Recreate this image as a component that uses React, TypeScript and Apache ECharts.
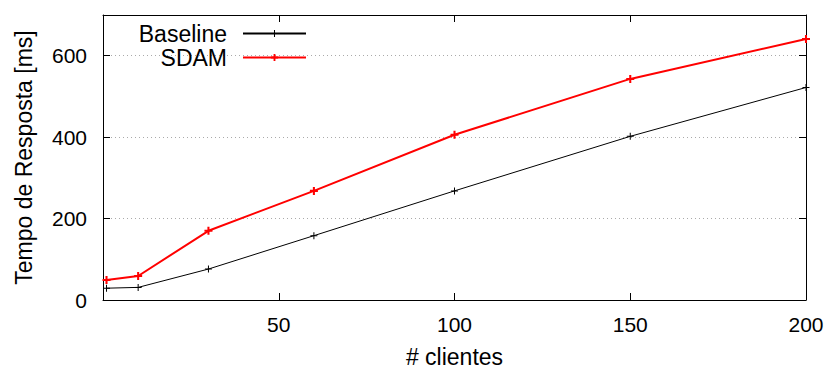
import React, { useEffect, useRef } from "react";
import * as echarts from "echarts";

const clients = [1, 10, 30, 60, 100, 150, 200];
const baseline = [29, 31, 76, 158, 268, 402, 522];
const sdam = [49, 59, 170, 268, 406, 543, 641];
const seriesNames = ["Baseline", "SDAM"];
const xTitle = "# clientes";
const yTitle = "Tempo de Resposta [ms]";

const FONT = "'Liberation Sans', Arial, Helvetica, sans-serif";
const plusThin = "path://M0,3L7,3L7,4L0,4Z M3,0L4,0L4,7L3,7Z";
const plusThick = "path://M0,2.6L7,2.6L7,4.4L0,4.4Z M2.6,0L4.4,0L4.4,7L2.6,7Z";

export default function App() {
  const ref = useRef<HTMLDivElement>(null);
  useEffect(() => {
    document.body.style.margin = "0";
    const chart = echarts.init(ref.current!, undefined, { renderer: "svg" });
    const axisLine = { show: true, onZero: false, lineStyle: { color: "#000", width: 1 } };
    const tick = { show: true, inside: true, length: 7, lineStyle: { color: "#000", width: 1 } };
    const label = { color: "#000", fontSize: 21, fontFamily: FONT };
    chart.setOption({
      animation: false,
      backgroundColor: "#fff",
      grid: { left: 103, top: 15, right: 20, bottom: 69, containLabel: false, outerBoundsMode: "none" },
      legend: {
        orient: "vertical",
        right: 519,
        top: 22,
        padding: 0,
        align: "right",
        itemWidth: 63,
        itemHeight: 9,
        itemGap: 1,
        textStyle: { color: "#000", fontSize: 23, fontFamily: FONT, padding: [0, 11, 0, 0] },
        data: seriesNames,
      },
      xAxis: [
        {
          type: "value",
          position: "bottom",
          min: 0,
          max: 200,
          interval: 50,
          axisLine,
          axisTick: tick,
          axisLabel: { ...label, showMinLabel: false, margin: 14 },
          splitLine: { show: false },
          name: xTitle,
          nameLocation: "middle",
          nameGap: 45,
          nameTextStyle: { color: "#000", fontSize: 23, fontFamily: FONT },
        },
        {
          type: "value",
          position: "top",
          min: 0,
          max: 200,
          interval: 50,
          axisLine,
          axisTick: tick,
          axisLabel: { show: false },
          splitLine: { show: false },
        },
      ],
      yAxis: [
        {
          type: "value",
          position: "left",
          min: 0,
          max: 700,
          interval: 200,
          axisLine,
          axisTick: tick,
          axisLabel: { ...label, showMaxLabel: false, margin: 16 },
          splitLine: { show: true, lineStyle: { color: "#aaa", type: [1, 3], width: 1 } },
          name: yTitle,
          nameLocation: "middle",
          nameGap: 68,
          nameTextStyle: { color: "#000", fontSize: 23, fontFamily: FONT },
        },
        {
          type: "value",
          position: "right",
          min: 0,
          max: 700,
          interval: 200,
          axisLine,
          axisTick: tick,
          axisLabel: { show: false },
          splitLine: { show: false },
        },
      ],
      series: [
        {
          name: seriesNames[0],
          type: "line",
          data: clients.map((c, i) => [c, baseline[i]]),
          symbol: plusThin,
          symbolSize: 7,
          symbolKeepAspect: true,
          showAllSymbol: true,
          lineStyle: { color: "#000", width: 1 },
          itemStyle: { color: "#000" },
          z: 3,
        },
        {
          name: seriesNames[1],
          type: "line",
          data: clients.map((c, i) => [c, sdam[i]]),
          symbol: plusThick,
          symbolSize: 8,
          symbolKeepAspect: true,
          showAllSymbol: true,
          lineStyle: { color: "#ff0000", width: 2 },
          itemStyle: { color: "#ff0000" },
          z: 4,
        },
      ],
    });
    return () => chart.dispose();
  }, []);
  return <div ref={ref} style={{ width: 826, height: 369 }} />;
}
